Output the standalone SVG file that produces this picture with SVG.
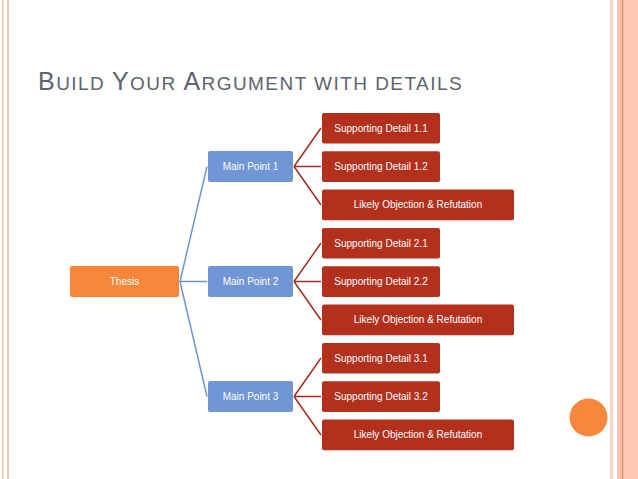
<svg xmlns="http://www.w3.org/2000/svg" width="638" height="479" viewBox="0 0 638 479">
<style>
.t{font-family:"Liberation Sans",Arial,sans-serif;font-size:10px;fill:#ffffff;text-anchor:middle}
.red{fill:#b3301d}
.blue{fill:#7096d5}
.org{fill:#f6863a}
.bl{stroke:#6f94d6;stroke-width:1.5;fill:none}
.rl{stroke:#a52c1d;stroke-width:1.5;fill:none}
</style>
<rect width="638" height="479" fill="#ffffff"/>
<g id="frame">
<rect x="2" y="0" width="1.5" height="479" fill="#f3c3b1"/>
<rect x="7" y="0" width="2" height="479" fill="#f4c8b8"/>
<rect x="610" y="0" width="3" height="479" fill="#f7d3c6"/>
<rect x="617" y="0" width="21" height="479" fill="#fcc7b3"/>
<rect x="620" y="0" width="1" height="479" fill="#f8b9a1"/>
<rect x="622" y="0" width="1.2" height="479" fill="#e68a64"/>
<circle cx="588.5" cy="417.5" r="19" fill="#f5883c"/>
</g>
<text x="38" y="90" font-family="'Liberation Sans',Arial,sans-serif" fill="#5d6371" letter-spacing="1.45" font-size="19"><tspan font-size="25">B</tspan>UILD <tspan font-size="25">Y</tspan>OUR <tspan font-size="25">A</tspan>RGUMENT WITH DETAILS</text>
<g id="connectors">
<path class="bl" d="M180,281.5 L207,166.5 M180,281.5 L207,281.5 M180,281.5 L207,396.5"/>
<path class="rl" d="M294,166.5 L321,128 M294,166.5 L321,166.5 M294,166.5 L321,205"/>
<path class="rl" d="M294,281.5 L321,243 M294,281.5 L321,281.5 M294,281.5 L321,320"/>
<path class="rl" d="M294,396.5 L321,358 M294,396.5 L321,396.5 M294,396.5 L321,435"/>
</g>
<g id="thesis"><rect class="org" x="70" y="266" width="109" height="31" rx="2"/><text class="t" x="124.5" y="285">Thesis</text></g>
<g id="mp1"><rect class="blue" x="208" y="151" width="85" height="31" rx="2"/><text class="t" x="250.5" y="170">Main Point 1</text></g>
<g id="mp2"><rect class="blue" x="208" y="266" width="85" height="31" rx="2"/><text class="t" x="250.5" y="285">Main Point 2</text></g>
<g id="mp3"><rect class="blue" x="208" y="381" width="85" height="31" rx="2"/><text class="t" x="250.5" y="400">Main Point 3</text></g>
<g id="sd11"><rect class="red" x="322" y="113" width="118" height="30.6" rx="2"/><text class="t" x="381" y="131.8">Supporting Detail 1.1</text></g>
<g id="sd12"><rect class="red" x="322" y="151.3" width="118" height="30.6" rx="2"/><text class="t" x="381" y="170.1">Supporting Detail 1.2</text></g>
<g id="lo1"><rect class="red" x="322" y="189.6" width="192" height="30.6" rx="2"/><text class="t" x="418" y="208.4">Likely Objection &amp; Refutation</text></g>
<g id="sd21"><rect class="red" x="322" y="228" width="118" height="30.6" rx="2"/><text class="t" x="381" y="246.8">Supporting Detail 2.1</text></g>
<g id="sd22"><rect class="red" x="322" y="266.3" width="118" height="30.6" rx="2"/><text class="t" x="381" y="285.1">Supporting Detail 2.2</text></g>
<g id="lo2"><rect class="red" x="322" y="304.6" width="192" height="30.6" rx="2"/><text class="t" x="418" y="323.4">Likely Objection &amp; Refutation</text></g>
<g id="sd31"><rect class="red" x="322" y="343" width="118" height="30.6" rx="2"/><text class="t" x="381" y="361.8">Supporting Detail 3.1</text></g>
<g id="sd32"><rect class="red" x="322" y="381.3" width="118" height="30.6" rx="2"/><text class="t" x="381" y="400.1">Supporting Detail 3.2</text></g>
<g id="lo3"><rect class="red" x="322" y="419.6" width="192" height="30.6" rx="2"/><text class="t" x="418" y="438.4">Likely Objection &amp; Refutation</text></g>
</svg>
